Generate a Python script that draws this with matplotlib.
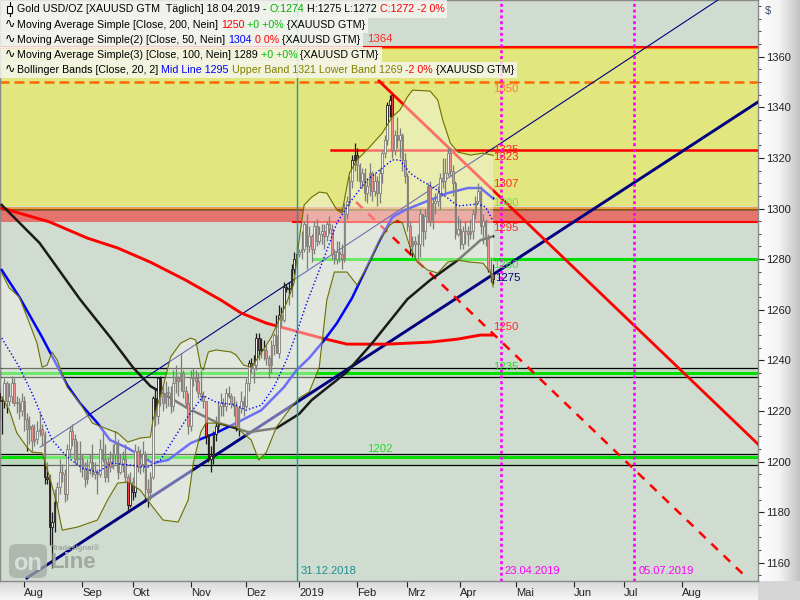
import numpy as np
import pandas as pd
import matplotlib
matplotlib.use("Agg")
import matplotlib.pyplot as plt
from matplotlib.patches import Rectangle, FancyBboxPatch
from matplotlib.colors import LinearSegmentedColormap
import matplotlib.ticker as mticker

plt.rcParams['font.family'] = ['Liberation Sans', 'DejaVu Sans']

W, H = 800, 600

# ------------------ Kerzen: 18.07.2018 .. 18.04.2019 (Handelstage) ------------------ #
first_day = "2018-07-18"

opens = [
    1227, 1224, 1224, 1231, 1224, 1226, 1231, 1223, 1223, 1220,                      # Jul
    1224, 1217, 1213, 1214, 1208, 1209, 1212, 1213, 1211, 1194, 1193, 1174, 1176,    # Aug
    1184, 1190, 1196, 1195, 1187, 1205, 1212, 1209, 1201, 1201,
    1201, 1197, 1193, 1197, 1200, 1195, 1196, 1195, 1205, 1201, 1194, 1200, 1198,    # Sep
    1203, 1207, 1196, 1199, 1201, 1194, 1183,
    1192, 1188, 1204, 1198, 1199, 1203, 1189, 1188, 1194, 1225, 1218, 1233, 1226,    # Okt
    1223, 1227, 1227, 1222, 1231, 1233, 1232, 1235, 1228, 1223,
    1214, 1233, 1233, 1232, 1227, 1226, 1224, 1210, 1201, 1202, 1211, 1214, 1222,    # Nov
    1223, 1222, 1227, 1226, 1223, 1222, 1214, 1221, 1224,
    1222, 1231, 1239, 1237, 1238, 1249, 1244, 1244, 1244, 1241, 1238, 1246, 1250,    # Dez
    1243, 1258, 1256, 1269, 1268, 1268, 1276, 1280,
    1282, 1283, 1284, 1294, 1285, 1289, 1284, 1293, 1287, 1290, 1291, 1289, 1294,    # Jan
    1292, 1282, 1280, 1283, 1282, 1280, 1298, 1303, 1311, 1319,
    1321, 1317, 1311, 1314, 1306, 1309, 1314, 1307, 1311, 1306, 1314, 1322, 1327,    # Feb
    1341, 1345, 1323, 1329, 1327, 1329, 1319,
    1313, 1293, 1285, 1287, 1286, 1286, 1298, 1291, 1297, 1309, 1295, 1302, 1303,    # Mrz
    1306, 1312, 1311, 1314, 1322, 1315, 1310, 1290,
    1292, 1286, 1291, 1291, 1290, 1291, 1298, 1303, 1307, 1293, 1295, 1288, 1276,    # Apr
    1274,
]
highs = [
    1229, 1226, 1233, 1232, 1231, 1234, 1233, 1226, 1225, 1227,
    1226, 1219, 1218, 1215, 1215, 1216, 1219, 1215, 1212, 1200, 1195, 1180, 1189,
    1192, 1201, 1199, 1197, 1207, 1214, 1215, 1211, 1208, 1208,
    1203, 1200, 1201, 1203, 1207, 1200, 1197, 1209, 1212, 1207, 1202, 1204, 1207,
    1212, 1209, 1203, 1204, 1207, 1195, 1196,
    1194, 1207, 1206, 1205, 1208, 1204, 1193, 1196, 1226, 1229, 1233, 1234, 1230,
    1232, 1230, 1230, 1236, 1238, 1234, 1243, 1236, 1230, 1227,
    1236, 1237, 1236, 1235, 1236, 1228, 1224, 1211, 1206, 1212, 1218, 1224, 1227,
    1225, 1229, 1230, 1227, 1226, 1224, 1222, 1228, 1226,
    1233, 1240, 1241, 1242, 1251, 1251, 1249, 1248, 1246, 1242, 1248, 1251, 1258,
    1262, 1261, 1271, 1270, 1271, 1278, 1283, 1285,
    1284, 1291, 1295, 1298, 1293, 1290, 1295, 1296, 1293, 1294, 1294, 1295, 1297,
    1294, 1284, 1287, 1287, 1286, 1302, 1305, 1313, 1321, 1326,
    1324, 1318, 1316, 1316, 1312, 1318, 1315, 1314, 1313, 1316, 1323, 1329, 1342,
    1345, 1344, 1331, 1336, 1332, 1330, 1322,
    1314, 1295, 1289, 1289, 1290, 1300, 1298, 1300, 1310, 1311, 1304, 1306, 1309,
    1314, 1320, 1320, 1324, 1324, 1317, 1311, 1297,
    1296, 1293, 1295, 1293, 1296, 1300, 1305, 1310, 1309, 1298, 1296, 1290, 1281,
    1278,
]
lows = [
    1216, 1211, 1221, 1219, 1222, 1223, 1222, 1219, 1217, 1218,
    1212, 1204, 1207, 1204, 1206, 1207, 1210, 1206, 1191, 1191, 1167, 1158, 1172,
    1182, 1187, 1192, 1184, 1185, 1202, 1206, 1199, 1199, 1196,
    1194, 1190, 1191, 1195, 1194, 1193, 1187, 1194, 1200, 1192, 1192, 1196, 1197,
    1200, 1193, 1195, 1196, 1192, 1181, 1182,
    1185, 1186, 1196, 1195, 1196, 1184, 1182, 1185, 1193, 1214, 1215, 1222, 1220,
    1221, 1222, 1219, 1220, 1227, 1226, 1228, 1225, 1221, 1211,
    1212, 1230, 1228, 1225, 1224, 1221, 1207, 1200, 1196, 1199, 1208, 1212, 1218,
    1218, 1220, 1225, 1221, 1218, 1212, 1210, 1219, 1218,
    1221, 1228, 1235, 1231, 1236, 1240, 1241, 1240, 1238, 1233, 1235, 1242, 1243,
    1241, 1253, 1255, 1267, 1262, 1265, 1274, 1278,
    1281, 1280, 1283, 1276, 1283, 1279, 1282, 1285, 1286, 1286, 1284, 1287, 1290,
    1280, 1278, 1278, 1279, 1276, 1279, 1296, 1301, 1308, 1315,
    1311, 1308, 1308, 1303, 1302, 1305, 1303, 1305, 1301, 1302, 1310, 1320, 1325,
    1336, 1320, 1321, 1324, 1320, 1315, 1310,
    1291, 1282, 1281, 1281, 1280, 1281, 1285, 1288, 1295, 1293, 1292, 1298, 1301,
    1300, 1308, 1306, 1313, 1313, 1305, 1288, 1289,
    1284, 1284, 1286, 1285, 1288, 1288, 1296, 1302, 1290, 1286, 1285, 1275, 1271,
    1270,
]
closes = [
    1224, 1224, 1231, 1224, 1226, 1231, 1223, 1223, 1220, 1224,
    1217, 1213, 1214, 1208, 1209, 1212, 1213, 1211, 1194, 1193, 1174, 1176, 1184,
    1190, 1196, 1195, 1187, 1205, 1212, 1209, 1201, 1201, 1201,
    1197, 1193, 1197, 1200, 1195, 1196, 1195, 1205, 1201, 1194, 1200, 1198, 1203,
    1207, 1196, 1199, 1201, 1194, 1183, 1192,
    1188, 1204, 1198, 1199, 1203, 1189, 1188, 1194, 1225, 1218, 1233, 1226, 1223,
    1227, 1227, 1222, 1231, 1233, 1232, 1235, 1228, 1223, 1214,
    1233, 1233, 1232, 1227, 1226, 1224, 1210, 1201, 1202, 1211, 1214, 1222, 1223,
    1222, 1227, 1226, 1223, 1222, 1214, 1221, 1224, 1222,
    1231, 1239, 1237, 1238, 1249, 1244, 1244, 1244, 1241, 1238, 1246, 1250, 1243,
    1258, 1256, 1269, 1268, 1268, 1276, 1280, 1282,
    1283, 1284, 1294, 1285, 1289, 1284, 1293, 1287, 1290, 1291, 1289, 1294, 1292,
    1282, 1280, 1283, 1282, 1280, 1298, 1303, 1311, 1319, 1321,
    1317, 1311, 1314, 1306, 1309, 1314, 1307, 1311, 1306, 1314, 1322, 1327, 1341,
    1343, 1323, 1329, 1327, 1329, 1319, 1313,
    1293, 1285, 1287, 1286, 1286, 1298, 1291, 1297, 1309, 1295, 1302, 1303, 1306,
    1312, 1311, 1314, 1322, 1315, 1310, 1290, 1292,
    1286, 1291, 1291, 1290, 1291, 1298, 1303, 1307, 1293, 1295, 1288, 1276, 1273,
    1272,
]

# ------------------ Indikatoren (Bar-Nr. ab 18.07.2018) ------------------ #
ma200_bar = [1, 20, 35, 47, 60, 74, 88, 96, 106, 119, 128, 138, 154, 171, 182, 191, 196]
ma200_val = [1300.2, 1294.7, 1288.3, 1284.4, 1278.8, 1271.7, 1263.8, 1258.7, 1254.7,
             1251.2, 1248.8, 1246.4, 1246.4, 1247.2, 1248.4, 1250.0, 1250.0]

ma100_bar = [1, 16, 32, 44, 53, 60, 64, 74, 86, 99, 110, 119, 124, 138, 148, 162, 171, 182, 191, 196]
ma100_val = [1301.4, 1286.4, 1264.2, 1249.2, 1237.3, 1229.8, 1227.5, 1221.5, 1215.6, 1211.6,
             1213.2, 1218.8, 1224.3, 1235.4, 1246.8, 1264.2, 1271.7, 1279.6, 1287.5, 1289.0]

ma50_bar = [1, 8, 17, 27, 32, 39, 44, 51, 57, 61, 67, 76, 86, 94, 104, 113, 118, 123, 129,
            134, 140, 151, 156, 161, 168, 178, 186, 191, 196]
ma50_val = [1275.7, 1265.0, 1249.2, 1230.2, 1223.1, 1215.2, 1208.5, 1205.3, 1201.8, 1199.4,
            1200.6, 1207.3, 1211.3, 1215.2, 1220.3, 1229.4, 1236.2, 1240.9, 1248.0, 1254.7,
            1264.6, 1287.5, 1296.6, 1299.4, 1302.2, 1306.1, 1308.1, 1308.1, 1304.0]

bb_mid_bar = [1, 8, 13, 17, 21, 27, 33, 39, 45, 52, 59, 64, 68, 75, 81, 86, 94, 98, 104, 109,
              114, 118, 122, 129, 134, 139, 146, 151, 156, 159, 163, 167, 172, 178, 182, 186,
              190, 193, 196]
bb_mid_val = [1248.8, 1237.3, 1227.1, 1217.6, 1208.5, 1201.8, 1197.4, 1195.8, 1199.4, 1198.6,
              1197.8, 1200.6, 1207.0, 1218.0, 1226.0, 1223.5, 1222.3, 1220.3, 1222.3, 1229.4,
              1240.1, 1250.8, 1262.6, 1280.8, 1294.3, 1302.2, 1311.3, 1315.2, 1319.2, 1319.2,
              1314.0, 1311.3, 1308.5, 1304.1, 1301.0, 1301.4, 1301.8, 1300.6, 1295.0]

bb_up_bar = [1, 4, 8, 12, 15, 17, 19, 21, 23, 27, 32, 37, 41, 47, 51, 56, 60, 61, 65, 68,
             72, 76, 78, 80, 81, 83, 86, 92, 94, 97, 100, 104, 108, 111, 114, 117, 119, 121,
             124, 127, 130, 134, 136, 139, 142, 147, 152, 156, 159, 162, 164, 171, 174, 176,
             179, 182, 187, 192, 196]
bb_up_val = [1274.5, 1268.6, 1265.0, 1254.7, 1246.8, 1237.3, 1238.1, 1243.3, 1240.1, 1229.4,
             1223.1, 1215.2, 1213.6, 1211.3, 1207.7, 1209.3, 1209.7, 1216.4, 1229.4, 1241.3,
             1246.8, 1248.8, 1248.0, 1237.3, 1236.2, 1243.3, 1244.1, 1243.3, 1242.1, 1238.1,
             1237.3, 1242.9, 1249.2, 1255.9, 1262.6, 1270.5, 1287.5, 1301.4, 1304.5, 1306.5,
             1306.1, 1299.4, 1298.2, 1314.0, 1319.2, 1324.3, 1329.8, 1336.2, 1338.9, 1344.1,
             1346.8, 1346.4, 1342.9, 1335.0, 1325.9, 1322.3, 1321.1, 1321.9, 1321.0]

bb_lo_bar = [1, 4, 7, 11, 13, 17, 20, 23, 25, 31, 39, 43, 47, 51, 56, 61, 65, 71, 75, 77,
             80, 82, 86, 94, 100, 103, 106, 110, 115, 119, 123, 127, 130, 133, 138, 142, 147,
             151, 155, 158, 160, 163, 166, 170, 174, 178, 182, 187, 192, 195, 196]
bb_lo_val = [1225.5, 1220.4, 1211.3, 1205.7, 1203.7, 1203.4, 1193.9, 1182.8, 1172.9, 1174.1,
             1176.9, 1184.8, 1191.5, 1191.9, 1188.7, 1182.0, 1176.9, 1176.1, 1184.8, 1199.4,
             1211.7, 1215.2, 1215.2, 1213.6, 1208.5, 1200.6, 1203.7, 1213.6, 1220.4, 1225.1,
             1227.5, 1237.3, 1263.8, 1274.9, 1274.9, 1269.8, 1278.8, 1287.5, 1293.5, 1295.4,
             1294.3, 1284.8, 1278.8, 1275.7, 1274.5, 1278.8, 1279.6, 1278.8, 1278.4, 1274.5,
             1269.0]

# Trendlinien: (bar, kurs) Anfang / Ende
trend_thick = [(11.0, 1154.0), (301.1, 1342.1)]
trend_thin = [(16.2, 1205.7), (285.2, 1382.4)]
trend_red = [(150.7, 1350.4), (301.1, 1206.9)]
trend_red_dash = [(141.6, 1302.6), (295.6, 1155.1)]

# Markierte Tage
mark_teal = "2018-12-31"
mark_magenta = ["2019-04-23", "2019-07-05"]

month_labels = ['Aug', 'Sep', 'Okt', 'Nov', 'Dez', '2019', 'Feb', 'Mrz', 'Apr', 'Mai', 'Jun', 'Jul', 'Aug']
price_ticks = [1160, 1180, 1200, 1220, 1240, 1260, 1280, 1300, 1320, 1340, 1360]

# ------------------ Figur ------------------ #
BG = '#d0dcd0'
YEL = '#e1e67e'
RED = '#ff0000'
GRN = '#00e000'
NAVY = '#000080'
OLIVE = '#6e6e00'

fig = plt.figure(figsize=(8, 6), dpi=100)
fig.patch.set_facecolor('#d6d6d6')

# Achsen-Hintergrund rechts / unten (Verlauf)
g = np.linspace(0, 1, 256)
rp = fig.add_axes([758 / W, 19 / H, 42 / W, 581 / H])
rp.imshow(np.vstack([g, g]), aspect='auto', extent=[0, 1, 0, 1],
          cmap=LinearSegmentedColormap.from_list('rp', ['#fdfdfd', '#f4f4f4', '#c2c2c2']))
rp.axis('off')
rp.set_zorder(-5)
bp = fig.add_axes([0, 0, 758 / W, 19 / H])
bp.imshow(np.vstack([g, g]).T, aspect='auto', extent=[0, 1, 0, 1],
          cmap=LinearSegmentedColormap.from_list('bp', ['#d8d8d8', '#f6f6f6']))
bp.axis('off')
bp.set_zorder(-5)

ax = fig.add_axes([0, 19 / H, 758 / W, 581 / H])
ax.set_facecolor(BG)
ax.set_xlim(0.32, 301.1)
ax.set_ylim(1152.8, 1382.4)

days = pd.bdate_range(first_day, periods=320)
n = len(closes)
idx = np.arange(n)
X0, X1 = -5, 320

# ---- Zonen ---- #
ax.axhspan(1300.9, 1364.0, color=YEL, lw=0, zorder=1)
ax.axhspan(1294.6, 1299.1, color='#e5736e', lw=0, zorder=1)
ax.axhspan(1233.3, 1237.1, color='#bfdabf', lw=0, zorder=1)
ax.axhspan(1198.5, 1203.1, color='#bad6ba', lw=0, zorder=1)

# ---- horizontale Linien ---- #
ax.plot([X0, X1], [1364.0, 1364.0], color=RED, lw=1.5, zorder=2)
ax.plot([X0, X1], [1363.3, 1363.3], color='#ff8000', lw=0.9, zorder=2)
ax.plot([X0, X1], [1350, 1350], color='#ff6a00', lw=1.8, dashes=(4, 2), zorder=2)
ax.plot([X0, X1], [1300.4, 1300.4], color='#eb9a3c', lw=2.0, zorder=2)
ax.plot([X0, X1], [1299.4, 1299.4], color='#7a3c10', lw=1.1, zorder=2)
ax.plot([116.6, X1], [1294.6, 1294.6], color=RED, lw=1.5, zorder=2)
ax.plot([131.7, X1], [1323.2, 1323.2], color=RED, lw=1.8, zorder=2)
ax.plot([124.5, X1], [1280.0, 1280.0], color=GRN, lw=2.2, zorder=2)
for lv in (1237.1, 1233.3, 1203.1, 1198.5):
    ax.plot([X0, X1], [lv, lv], color='black', lw=0.9, zorder=2)
ax.plot([X0, X1], [1235.1, 1235.1], color=GRN, lw=2.2, zorder=2)
ax.plot([X0, X1], [1202.0, 1202.0], color=GRN, lw=2.2, zorder=2)

# ---- Trendlinien ---- #
ax.plot(*zip(*trend_thin), color=NAVY, lw=0.8, zorder=3)
ax.plot(*zip(*trend_thick), color=NAVY, lw=2.1, zorder=3)
ax.plot(*zip(*trend_red), color=RED, lw=2.0, zorder=3)
ax.plot(*zip(*trend_red_dash), color=RED, lw=1.8, dashes=(3.6, 3.2), zorder=3)

# ---- gleitende Durchschnitte ---- #
ax.plot(ma200_bar, ma200_val, color=RED, lw=2.1, zorder=3.2)
ax.plot(ma100_bar, ma100_val, color='#1a1a1a', lw=1.8, zorder=3.2)
ax.plot(ma50_bar, ma50_val, color='#0000ff', lw=1.8, zorder=3.2)

# ---- Kerzen ---- #
o = np.array(opens, float)
c = np.array(closes, float)
hi = np.array(highs, float)
lo = np.array(lows, float)
body_lo = np.minimum(o, c)
body_h = np.maximum(np.abs(c - o), 0.4)
face = np.where(c < o, '#f03c3c', '#f2f2f2')
ax.vlines(idx, lo, hi, color='#1a1a1a', lw=0.9, zorder=3.8)
ax.bar(idx, body_h, bottom=body_lo, width=0.66, color=face, edgecolor='#1a1a1a',
       linewidth=0.6, zorder=4)

# ---- Bollinger-Fläche (halbtransparent über allem) ---- #
poly_x = np.concatenate([bb_up_bar, bb_lo_bar[::-1]])
poly_y = np.concatenate([bb_up_val, bb_lo_val[::-1]])
ax.fill(poly_x, poly_y, color='#f6f6ee', alpha=0.45, lw=0, zorder=5)
ax.plot(bb_up_bar, bb_up_val, color=OLIVE, lw=0.8, zorder=6)
ax.plot(bb_lo_bar, bb_lo_val, color=OLIVE, lw=0.8, zorder=6)
ax.plot(bb_mid_bar, bb_mid_val, color='#0000ff', lw=1.0, dashes=(1, 1.6), zorder=6)

# ---- vertikale Markierungen ---- #
i_teal = days.get_loc(pd.Timestamp(mark_teal))
ax.axvline(i_teal, color='#1a9a9a', lw=1.0, zorder=6)
ax.annotate(pd.Timestamp(mark_teal).strftime('%d.%m.%Y'), xy=(i_teal, 1156.7), xytext=(3, 0),
            textcoords='offset points', color='#1a8f8f', fontsize=8, va='center', ha='left',
            zorder=10)
for d in mark_magenta:
    i_m = days.get_loc(pd.Timestamp(d))
    ax.axvline(i_m, color='#ff00ff', lw=1.9, dashes=(1.1, 1.1), zorder=6)
    ax.annotate(pd.Timestamp(d).strftime('%d.%m.%Y'), xy=(i_m, 1156.7), xytext=(3, 0),
                textcoords='offset points', color='#ff00ff', fontsize=8, va='center',
                ha='left', zorder=10)

# ---- Kurs-Beschriftungen ---- #
last = n - 1
level_labels = [
    ("1350", last, 1347.2, '#ff7a3a'),
    ("1325", last, 1323.1, '#ff2a2a'),
    ("1323", last, 1320.3, '#ff2a2a'),
    ("1307", last, 1309.7, '#ff2a2a'),
    ("1300", last, 1302.2, '#7ad85a'),
    ("1295", last, 1292.3, '#ff2a2a'),
    ("1280", last, 1277.7, '#44dd44'),
    ("1275", last + 0.8, 1272.5, NAVY),
    ("1250", last, 1253.2, '#ff2a2a'),
    ("1235", last, 1237.3, '#22dd22'),
    ("1202", 146.0, 1204.9, '#22dd22'),
    ("1364", 146.0, 1367.0, '#ff2a2a'),
]
for txt, xb, yv, col in level_labels:
    ax.text(xb, yv, txt, color=col, fontsize=8.2, va='center', ha='left', zorder=25)

# ---- Achsen ---- #
for s in ax.spines.values():
    s.set_color('#8a8a8a')
    s.set_linewidth(1.0)
ax.yaxis.tick_right()
ax.yaxis.set_major_locator(mticker.FixedLocator(price_ticks))
ax.yaxis.set_minor_locator(mticker.MultipleLocator(5))
ax.tick_params(axis='y', which='major', length=4, pad=2, labelsize=8, colors='#222222')
ax.tick_params(axis='y', which='minor', length=2.5, colors='#222222')

month_starts = pd.date_range('2018-08-01', '2019-08-01', freq='MS')
tick_pos = [days.searchsorted(m) for m in month_starts]
ax.set_xticks(tick_pos)
ax.set_xticklabels(month_labels, ha='left')
ax.tick_params(axis='x', length=4, pad=1, labelsize=8, colors='#222222')

fig.text(765 / W, 1 - 11 / H, '$', fontsize=8, color='#334466', va='center', ha='left')

# ---- Tradesignal-Logo ---- #
tf = fig.transFigure
ax.add_patch(FancyBboxPatch((9 / W, 1 - 578 / H), 38 / W, 34 / H,
                            boxstyle='round,pad=0,rounding_size=0.01', transform=tf,
                            facecolor='#a4aca4', edgecolor='none', alpha=0.75,
                            clip_on=False, zorder=7))
ax.text(28 / W, 1 - 563 / H, 'on', transform=tf, fontsize=17, fontweight='bold',
        color='#d8ded8', va='center', ha='center', zorder=8, clip_on=False)
ax.text(50 / W, 1 - 562 / H, 'Line', transform=tf, fontsize=16, fontweight='bold',
        color='#a0a8a0', va='center', ha='left', zorder=8, clip_on=False)
ax.text(52 / W, 1 - 548 / H, 'Tradesignal®', transform=tf, fontsize=5.5, fontweight='bold',
        color='#a0a8a0', va='center', ha='left', zorder=8, clip_on=False)

# ---- Legende oben links ---- #
LFS = 7.65
BLK = '#000000'
legend_rows = [
    (9, [("Gold USD/OZ [XAUUSD GTM  Täglich] 18.04.2019 - ", BLK), ("O:1274", '#00b000'),
         (" H:1275 L:1272 ", BLK), ("C:1272 -2 0%", '#ff0000')]),
    (25, [("Moving Average Simple [Close, 200, Nein] ", BLK), ("1250", '#ff0000'),
          (" +0 +0%", '#00c000'), (" {XAUUSD GTM}", BLK)]),
    (40, [("Moving Average Simple(2) [Close, 50, Nein] ", BLK), ("1304", '#0000ff'),
          (" 0 0%", '#ff0000'), (" {XAUUSD GTM}", BLK)]),
    (55, [("Moving Average Simple(3) [Close, 100, Nein] 1289 ", BLK), ("+0 +0%", '#00c000'),
          (" {XAUUSD GTM}", BLK)]),
    (70, [("Bollinger Bands [Close, 20, 2] ", BLK), ("Mid Line 1295", '#0000ff'),
          (" Upper Band 1321 Lower Band 1269", '#808000'), (" -2 0%", '#ff0000'),
          (" {XAUUSD GTM}", BLK)]),
]
box_spans = [(0, 17.5), (17.5, 32.5), (32.5, 47.5), (47.5, 62.5), (62.5, 78)]

row_ends = []
for k, (yc, parts) in enumerate(legend_rows):
    t = ax.annotate(parts[0][0], xy=(17 / W, 1 - yc / H), xycoords='figure fraction',
                    va='center', ha='left', color=parts[0][1], fontsize=LFS, zorder=21,
                    annotation_clip=False)
    for s, col in parts[1:]:
        t = ax.annotate(s, xy=(1, 0), xycoords=t, va='bottom', ha='left', color=col,
                        fontsize=LFS, zorder=21, annotation_clip=False)
    row_ends.append(t)
    if k > 0:
        ax.text(5 / W, 1 - yc / H, '∿', transform=tf, fontsize=9, color=BLK, va='center',
                ha='left', zorder=21, clip_on=False)

# Kerzen-Symbol vor der ersten Zeile
ax.add_line(plt.Line2D([9.5 / W, 9.5 / W], [1 - 2 / H, 1 - 16 / H], transform=tf,
                       color=BLK, lw=0.8, zorder=21, clip_on=False))
ax.add_patch(Rectangle((7 / W, 1 - 13 / H), 5 / W, 7 / H, transform=tf, facecolor='white',
                       edgecolor=BLK, lw=0.8, zorder=22, clip_on=False))

fig.canvas.draw()
rend = fig.canvas.get_renderer()
for (y0, y1), t in zip(box_spans, row_ends):
    x1 = t.get_window_extent(rend).x1 + 3
    ax.add_patch(Rectangle((0, 1 - y1 / H), x1 / W, (y1 - y0) / H, transform=tf,
                           facecolor='#f6f6f2', edgecolor='none', alpha=0.82,
                           zorder=20, clip_on=False))

fig.savefig('out.png', dpi=100, facecolor=fig.get_facecolor())
